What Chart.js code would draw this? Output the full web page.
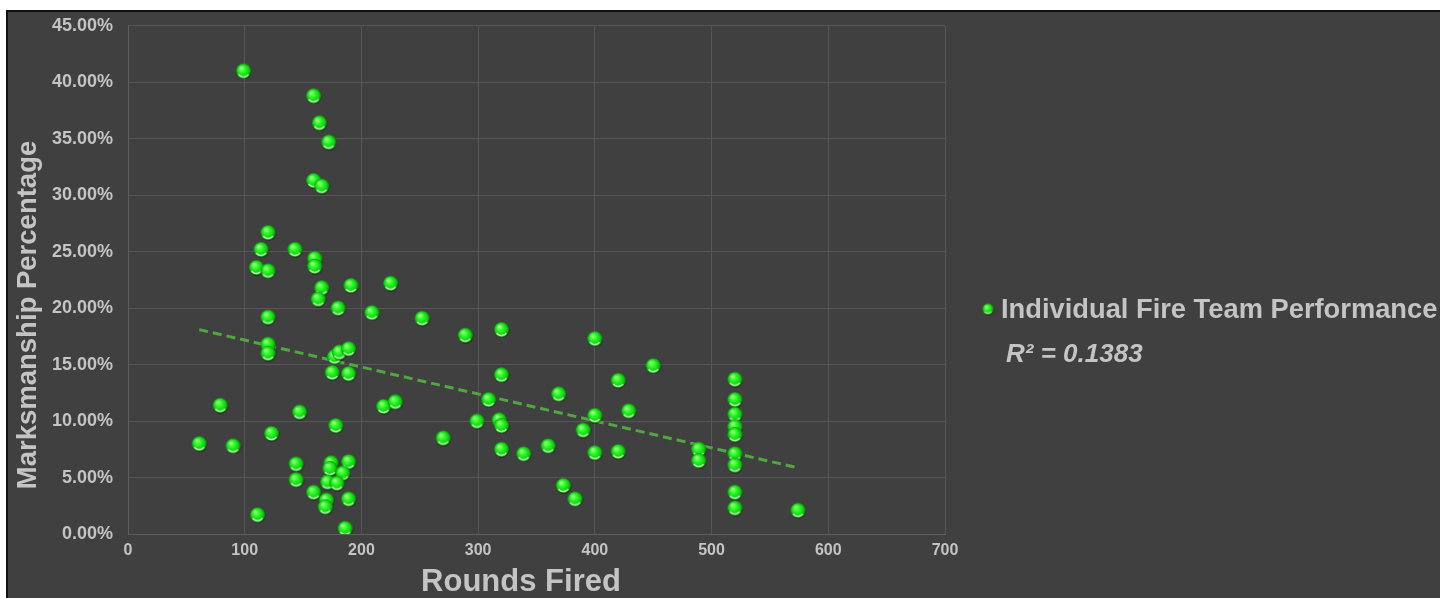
<!DOCTYPE html>
<html>
<head>
<meta charset="utf-8">
<style>
  html, body { margin: 0; padding: 0; background: #fff; overflow: hidden; }
  #wrap { position: relative; width: 1440px; height: 598px; }
</style>
<script src="https://cdn.jsdelivr.net/npm/chart.js@4.4.1/dist/chart.umd.min.js"></script>
</head>
<body>
<div id="wrap"><canvas id="c" width="1440" height="598"></canvas></div>
<script>
// Rounds fired by each fire team and the resulting hit percentage
const roundsFired = [
  99, 159, 164, 172, 159, 166, 120, 114, 143, 110, 120, 160, 160, 166, 191, 225,
  163, 180, 209, 120, 120, 120, 177, 181, 189, 175, 189, 79, 147, 178, 123, 61,
  90, 219, 229, 144, 144, 174, 173, 189, 184, 171, 179, 159, 170, 169, 189, 111, 186,
  252, 289, 320, 400, 450, 320, 420, 369, 309, 429, 400, 299, 318, 320, 390, 270,
  320, 339, 360, 400, 420, 489, 489, 520, 520, 520, 520, 520, 520, 520, 520, 520,
  373, 383, 574
];
const marksmanship = [
  41.0, 38.8, 36.4, 34.7, 31.3, 30.8, 26.7, 25.2, 25.2, 23.6, 23.3, 24.4, 23.7, 21.8, 22.0, 22.2,
  20.8, 20.0, 19.6, 19.2, 16.8, 16.0, 15.7, 16.1, 16.4, 14.3, 14.2, 11.4, 10.8, 9.6, 8.9, 8.0,
  7.8, 11.3, 11.7, 6.2, 4.8, 6.3, 5.8, 6.4, 5.4, 4.6, 4.5, 3.7, 3.0, 2.4, 3.1, 1.7, 0.5,
  19.1, 17.6, 18.1, 17.3, 14.9, 14.1, 13.6, 12.4, 11.9, 10.9, 10.5, 10.0, 10.1, 9.6, 9.2, 8.5,
  7.5, 7.1, 7.8, 7.2, 7.3, 7.5, 6.5, 13.7, 11.9, 10.6, 9.5, 8.8, 7.1, 6.1, 3.7, 2.3,
  4.3, 3.1, 2.1
];

// Linear trend line end points
const trendRounds = [61, 574];
const trendPct = [18.1, 5.86];

// Axis ranges and tick steps
const xTickValues = [0, 100, 200, 300, 400, 500, 600, 700];
const yTickValues = [0, 5, 10, 15, 20, 25, 30, 35, 40, 45];

const seriesName = 'Individual Fire Team Performance';
const rSquaredText = 'R\u00B2 = 0.1383';
const xTitle = 'Rounds Fired';
const yTitle = 'Marksmanship Percentage';

const FONT = "'Liberation Sans', Arial, sans-serif";
const TEXT = '#c4c4c4';
const PANEL = '#404040';

// Glossy green ball used as the point marker
function makeSphere(d) {
  const c = document.createElement('canvas');
  c.width = c.height = d + 2;
  const g = c.getContext('2d');
  const r = d / 2, cx = r + 1, cy = r + 1;
  g.fillStyle = 'rgba(0,0,0,0.3)';
  g.beginPath(); g.arc(cx + 0.5, cy + 1, r, 0, Math.PI * 2); g.fill();
  const grad = g.createRadialGradient(cx - r * 0.3, cy - r * 0.4, r * 0.1, cx, cy, r);
  grad.addColorStop(0, '#a6ff8a');
  grad.addColorStop(0.3, '#33ff2e');
  grad.addColorStop(0.75, '#12d012');
  grad.addColorStop(1, '#0a8c0a');
  g.fillStyle = grad;
  g.beginPath(); g.arc(cx, cy, r, 0, Math.PI * 2); g.fill();
  g.strokeStyle = 'rgba(220,255,205,0.8)';
  g.lineWidth = Math.max(1, r * 0.22);
  g.beginPath(); g.arc(cx, cy, r * 0.8, Math.PI * 0.2, Math.PI * 0.8); g.stroke();
  return c;
}
const ball = makeSphere(15);
const legendBall = makeSphere(11);

const points = roundsFired.map((x, i) => ({ x: x, y: marksmanship[i] }));
const trend = trendRounds.map((x, i) => ({ x: x, y: trendPct[i] }));

// Dark panel with a black frame line
const panelPlugin = {
  id: 'panel',
  beforeDraw(chart) {
    const ctx = chart.ctx, w = chart.width, h = chart.height;
    ctx.save();
    ctx.fillStyle = '#ffffff'; ctx.fillRect(0, 0, w, h);
    ctx.fillStyle = '#111111'; ctx.fillRect(6, 10, w - 6, h - 10);
    ctx.fillStyle = PANEL; ctx.fillRect(8, 12, w - 8, h - 12);
    ctx.restore();
  }
};

// Axis titles, legend entry and R² caption
const labelsPlugin = {
  id: 'labels',
  afterDraw(chart) {
    const ctx = chart.ctx;
    ctx.save();
    ctx.fillStyle = TEXT;
    ctx.textBaseline = 'middle';

    ctx.font = 'bold 31px ' + FONT;
    ctx.textAlign = 'center';
    ctx.fillText(xTitle, 521, 582);

    ctx.save();
    ctx.translate(28, 315);
    ctx.rotate(-Math.PI / 2);
    ctx.font = 'bold 27.5px ' + FONT;
    ctx.fillText(yTitle, 0, 0);
    ctx.restore();

    ctx.drawImage(legendBall, 988 - legendBall.width / 2, 309 - legendBall.height / 2);
    ctx.textAlign = 'left';
    ctx.font = 'bold 27.3px ' + FONT;
    ctx.fillText(chart.data.datasets[0].label, 1001, 310);
    ctx.font = 'italic bold 26px ' + FONT;
    ctx.fillText(rSquaredText, 1006, 355);
    ctx.restore();
  }
};

new Chart(document.getElementById('c'), {
  type: 'scatter',
  data: {
    datasets: [
      {
        label: seriesName,
        data: points,
        pointStyle: ball,
        pointRadius: 7,
        pointHoverRadius: 7,
        order: 1
      },
      {
        type: 'line',
        label: 'Linear trend',
        data: trend,
        borderColor: '#4fa83d',
        borderWidth: 3,
        borderDash: [9, 5],
        pointRadius: 0,
        fill: false,
        order: 2
      }
    ]
  },
  options: {
    responsive: false,
    animation: false,
    layout: { padding: { left: 8, top: 25, right: 495, bottom: 0 } },
    plugins: {
      legend: { display: false },
      tooltip: { enabled: false },
      title: { display: false }
    },
    scales: {
      x: {
        type: 'linear',
        min: xTickValues[0],
        max: xTickValues[xTickValues.length - 1],
        afterBuildTicks(scale) { scale.ticks = xTickValues.map(v => ({ value: v })); },
        afterFit(scale) { scale.height = 64; },
        ticks: {
          color: TEXT,
          font: { family: "'Liberation Sans Narrow', " + FONT, size: 16, weight: 'bold' },
          padding: 7
        },
        grid: { color: '#565656', lineWidth: 1, drawTicks: false },
        border: { color: '#5e5e5e', width: 1 }
      },
      y: {
        min: yTickValues[0],
        max: yTickValues[yTickValues.length - 1],
        afterBuildTicks(scale) { scale.ticks = yTickValues.map(v => ({ value: v })); },
        afterFit(scale) { scale.width = 120; },
        ticks: {
          color: TEXT,
          font: { family: FONT, size: 18, weight: 'bold' },
          padding: 15,
          callback: v => v.toFixed(2) + '%'
        },
        grid: { color: '#565656', lineWidth: 1, drawTicks: false },
        border: { color: '#5e5e5e', width: 1 }
      }
    }
  },
  plugins: [panelPlugin, labelsPlugin]
});
</script>
</body>
</html>
